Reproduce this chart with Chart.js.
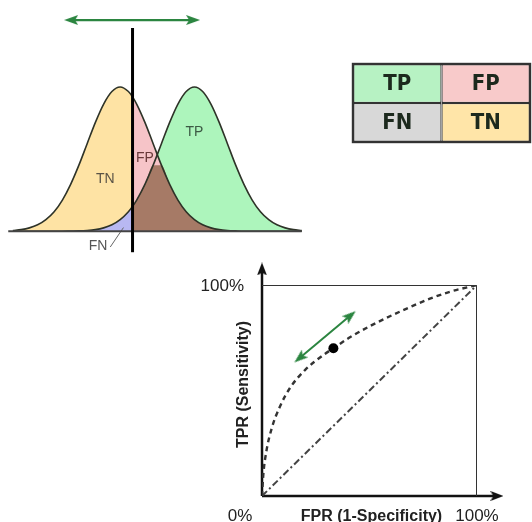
<!DOCTYPE html>
<html>
<head>
<meta charset="utf-8">
<script src="https://cdn.jsdelivr.net/npm/chart.js@4.4.1/dist/chart.umd.min.js"></script>
<style>
  html, body { margin: 0; padding: 0; background: #fff; }
  body { width: 532px; height: 522px; position: relative; overflow: hidden; }
  canvas { position: absolute; }
  #distChart { left: 0; top: 15px; }
  #matrixChart { left: 351px; top: 62px; }
  #rocChart { left: 190px; top: 250px; }
</style>
</head>
<body>
<canvas id="distChart" width="340" height="245"></canvas>
<canvas id="matrixChart" width="181" height="82"></canvas>
<canvas id="rocChart" width="342" height="272"></canvas>
<script>
// test score axis (in standard deviations of the negative class)
const scoreX = [-3.25, -3, -2.75, -2.5, -2.25, -2, -1.75, -1.5, -1.25, -1, -0.75, -0.5, -0.25, 0,
  0.25, 0.375, 0.5, 0.75, 1, 1.25, 1.5, 1.75, 2, 2.25, 2.5, 2.75, 3, 3.25, 3.5, 3.75,
  4, 4.25, 4.5, 4.75, 5, 5.25, 5.5];
// negatives (yellow curve), relative height
const negativeDensity = [0.005, 0.011, 0.023, 0.044, 0.080, 0.135, 0.216, 0.325, 0.458, 0.607, 0.755, 0.882, 0.969, 1.000,
  0.969, 0.932, 0.882, 0.755, 0.607, 0.458, 0.325, 0.216, 0.135, 0.080, 0.044, 0.023, 0.011, 0.005, 0.002, 0,
  0, 0, 0, 0, 0, 0, 0];
// positives (green curve), relative height
const positiveDensity = [0, 0, 0, 0, 0, 0, 0, 0.001, 0.002, 0.005, 0.011, 0.023, 0.044, 0.080,
  0.135, 0.172, 0.216, 0.325, 0.458, 0.607, 0.755, 0.882, 0.969, 1.000, 0.969, 0.882, 0.755, 0.607, 0.458, 0.325,
  0.216, 0.135, 0.080, 0.044, 0.023, 0.011, 0.005];
const threshold = 0.375;
const regionLabels = ['TN', 'TP', 'FP', 'FN'];

// confusion matrix
const matrixCols = ['Positive', 'Negative'];
const matrixTopRow = ['TP', 'FP'];
const matrixBottomRow = ['FN', 'TN'];

// ROC curve
const rocFpr = [0, 0.006, 0.02, 0.045, 0.084, 0.13, 0.2, 0.285, 0.332, 0.409, 0.502, 0.595, 0.688, 0.781, 0.874, 1];
const rocTpr = [0, 0.10, 0.21, 0.32, 0.425, 0.512, 0.597, 0.668, 0.70, 0.752, 0.805, 0.852, 0.895, 0.935, 0.968, 1];
const chanceFpr = [0, 1];
const chanceTpr = [0, 1];
const operatingPoint = { x: 0.332, y: 0.70 };
const rocTicks = ['0%', '100%'];
const rocXTitle = 'FPR (1-Specificity)';
const rocYTitle = 'TPR (Sensitivity)';

const GREEN = '#2b8540';
const cellColors = { TP: '#b7f2c3', FP: '#f8caca', FN: '#d8d8d8', TN: '#ffe5a8' };

function pts(xs, ys) {
  return xs.map((x, i) => ({ x: x, y: ys[i] }));
}

// arrow head drawn on a small canvas, used as a point style (points up, rotated by Chart.js)
function arrowHead(color, w, h) {
  const c = document.createElement('canvas');
  c.width = w;
  c.height = h;
  const g = c.getContext('2d');
  g.fillStyle = color;
  g.beginPath();
  g.moveTo(w / 2, 0);
  g.lineTo(w, h);
  g.lineTo(w / 2, h * 0.78);
  g.lineTo(0, h);
  g.closePath();
  g.fill();
  return c;
}
const greenHead = arrowHead(GREEN, 10, 14);
const blackHead = arrowHead('#111', 10, 13);

const noFill = 'rgba(0,0,0,0)';
const leftPart = (ys) => pts(scoreX, ys).filter(p => p.x <= threshold);
const rightPart = (ys) => pts(scoreX, ys).filter(p => p.x >= threshold);
const overlap = negativeDensity.map((v, i) => Math.min(v, positiveDensity[i]));

function area(data, color, order) {
  return {
    data: data, showLine: true, fill: 'origin', backgroundColor: color,
    borderColor: noFill, borderWidth: 0, pointRadius: 0,
    cubicInterpolationMode: 'monotone', order: order
  };
}

function stroke(data, color, width, order, extra) {
  return Object.assign({
    data: data, showLine: true, fill: false, borderColor: color,
    borderWidth: width, pointRadius: 0, order: order
  }, extra || {});
}

// ---------- distributions ----------
const labelSpots = { TN: [-0.45, 0.36], TP: [2.25, 0.69], FP: [0.75, 0.51], FN: [-0.67, -0.105] };
const labelColors = { TN: '#5a5346', TP: '#3c5a44', FP: '#6a3a3a', FN: '#555' };

const regionLabelPlugin = {
  id: 'regionLabels',
  afterDatasetsDraw(chart) {
    const { ctx, scales: { x, y } } = chart;
    ctx.save();
    ctx.font = '14px "Liberation Sans", Arial, sans-serif';
    ctx.textAlign = 'center';
    ctx.textBaseline = 'middle';
    regionLabels.forEach(t => {
      ctx.fillStyle = labelColors[t];
      ctx.fillText(t, x.getPixelForValue(labelSpots[t][0]), y.getPixelForValue(labelSpots[t][1]));
    });
    ctx.restore();
  }
};

new Chart(document.getElementById('distChart'), {
  type: 'scatter',
  data: {
    datasets: [
      area(pts(scoreX, negativeDensity), '#fee3a4', 20),
      area(pts(scoreX, positiveDensity), '#adf5bc', 19),
      area(leftPart(positiveDensity), '#b8b8f2', 18),
      area(rightPart(negativeDensity), '#f6c4c8', 17),
      area(rightPart(overlap), '#a67a66', 16),
      stroke(pts(scoreX, negativeDensity), '#2e3328', 1.6, 10, { cubicInterpolationMode: 'monotone' }),
      stroke(pts(scoreX, positiveDensity), '#2e3328', 1.6, 10, { cubicInterpolationMode: 'monotone' }),
      stroke([{ x: -3.39, y: 0 }, { x: 5.5, y: 0 }], '#444', 2, 9),
      stroke([{ x: -0.3, y: -0.11 }, { x: 0.1, y: 0.025 }], '#666', 1, 9),
      stroke([{ x: threshold, y: -0.146 }, { x: threshold, y: 1.41 }], '#000', 3, 5),
      stroke([{ x: -1.485, y: 1.465 }, { x: 2.21, y: 1.465 }], GREEN, 2.2, 4),
      {
        data: [{ x: -1.485, y: 1.465 }, { x: 2.21, y: 1.465 }], showLine: false,
        pointStyle: greenHead, pointRotation: [270, 90], pointRadius: 20, order: 3
      }
    ]
  },
  options: {
    responsive: false, animation: false, events: [],
    layout: { padding: 0, autoPadding: false },
    plugins: { legend: { display: false }, tooltip: { enabled: false } },
    scales: {
      x: { type: 'linear', min: -3.64, max: 6.66, display: false },
      y: { min: -0.2, max: 1.5, display: false }
    }
  },
  plugins: [regionLabelPlugin]
});

// ---------- confusion matrix ----------
const cellTextPlugin = {
  id: 'cellText',
  afterDatasetsDraw(chart) {
    const ctx = chart.ctx;
    ctx.save();
    ctx.font = 'bold 22px "DejaVu Sans Condensed", "Liberation Sans Narrow", sans-serif';
    ctx.fillStyle = '#1c291d';
    ctx.textAlign = 'center';
    ctx.textBaseline = 'middle';
    chart.data.datasets.forEach((ds, di) => {
      chart.getDatasetMeta(di).data.forEach((bar, i) => {
        ctx.fillText(ds.cellLabels[i], bar.x, (bar.y + bar.base) / 2 + 1);
      });
    });
    const a = chart.chartArea;
    ctx.strokeStyle = '#333';
    ctx.lineWidth = 2.4;
    ctx.strokeRect(a.left, a.top, a.right - a.left, a.bottom - a.top);
    ctx.restore();
  }
};

function matrixRow(labels) {
  return {
    data: labels.map(() => 1),
    cellLabels: labels,
    backgroundColor: labels.map(l => cellColors[l]),
    borderColor: '#333', borderWidth: 1.2, borderSkipped: false,
    barPercentage: 1, categoryPercentage: 1, inflateAmount: 0
  };
}

new Chart(document.getElementById('matrixChart'), {
  type: 'bar',
  data: { labels: matrixCols, datasets: [matrixRow(matrixBottomRow), matrixRow(matrixTopRow)] },
  options: {
    responsive: false, animation: false, events: [],
    layout: { padding: 2, autoPadding: false },
    plugins: { legend: { display: false }, tooltip: { enabled: false } },
    scales: {
      x: { stacked: true, display: false },
      y: { stacked: true, min: 0, max: 2, display: false }
    }
  },
  plugins: [cellTextPlugin]
});

// ---------- ROC space ----------
const rocTextPlugin = {
  id: 'rocText',
  afterDraw(chart) {
    const { ctx, scales: { x, y } } = chart;
    const x0 = x.getPixelForValue(0), x1 = x.getPixelForValue(1);
    const y0 = y.getPixelForValue(0), y1 = y.getPixelForValue(1);
    ctx.save();
    ctx.fillStyle = '#222';
    ctx.font = '17px "Liberation Sans", Arial, sans-serif';
    ctx.textBaseline = 'alphabetic';
    ctx.textAlign = 'right';
    ctx.fillText(rocTicks[1], x0 - 18, y1 + 6);
    ctx.textAlign = 'center';
    ctx.fillText(rocTicks[0], x0 - 22, y0 + 25);
    ctx.fillText(rocTicks[1], x1, y0 + 25);
    ctx.font = 'bold 16px "Liberation Sans", Arial, sans-serif';
    ctx.fillText(rocXTitle, (x0 + x1) / 2 + 2, y0 + 25);
    ctx.translate(x0 - 14, (y0 + y1) / 2 - 6);
    ctx.rotate(-Math.PI / 2);
    ctx.fillText(rocYTitle, 0, 0);
    ctx.restore();
  }
};

new Chart(document.getElementById('rocChart'), {
  type: 'scatter',
  data: {
    datasets: [
      { data: [operatingPoint], pointRadius: 5, pointBackgroundColor: '#000', pointBorderWidth: 0, order: 1 },
      stroke(pts(rocFpr, rocTpr), '#333', 2.4, 5, { borderDash: [5, 4], cubicInterpolationMode: 'monotone' }),
      stroke(pts(chanceFpr, chanceTpr), '#444', 2, 5, { borderDash: [7, 3, 2, 3] }),
      stroke([{ x: 0, y: 1 }, { x: 1, y: 1 }, { x: 1, y: 0 }], '#333', 2, 6),
      stroke([{ x: 0, y: 0 }, { x: 1.09, y: 0 }], '#111', 2.5, 6, { clip: false }),
      stroke([{ x: 0, y: 0 }, { x: 0, y: 1.07 }], '#111', 2.5, 6, { clip: false }),
      {
        data: [{ x: 1.093, y: 0 }, { x: 0, y: 1.076 }], showLine: false, clip: false,
        pointStyle: blackHead, pointRotation: [90, 0], pointRadius: 30, order: 4
      },
      stroke([{ x: 0.175, y: 0.654 }, { x: 0.411, y: 0.855 }], GREEN, 2, 3),
      {
        data: [{ x: 0.175, y: 0.654 }, { x: 0.411, y: 0.855 }], showLine: false,
        pointStyle: greenHead, pointRotation: [230, 50], pointRadius: 20, order: 2
      }
    ]
  },
  options: {
    responsive: false, animation: false, events: [],
    layout: { padding: { left: 72, right: 55, top: 35, bottom: 26 }, autoPadding: false },
    plugins: { legend: { display: false }, tooltip: { enabled: false } },
    scales: {
      x: { type: 'linear', min: 0, max: 1, display: false },
      y: { min: 0, max: 1, display: false }
    }
  },
  plugins: [rocTextPlugin]
});
</script>
</body>
</html>
